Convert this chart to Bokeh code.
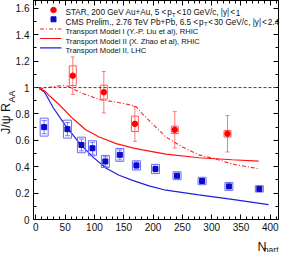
import math
from bokeh.plotting import figure
from bokeh.models import (Range1d, SingleIntervalTicker, LinearAxis, Span, Title,
                          CustomJSTickFormatter, ColumnDataSource, Whisker, TeeHead)
from bokeh.embed import file_html
from bokeh.resources import INLINE
from bokeh.core.properties import value

# ---------------- data ----------------
star_npart = [63, 116, 169, 237, 327]
star_raa = [1.09, 0.965, 0.725, 0.68, 0.65]
star_stat = [0.142, 0.157, 0.132, 0.138, 0.138]
star_sys = [0.075, 0.053, 0.058, 0.028, 0.025]

cms_npart = [14.2, 53.9, 77.8, 96.6, 118.6, 143.3, 171.6, 204.1, 240.9, 283.6, 329.4, 381.3]
cms_raa = [0.70, 0.685, 0.565, 0.54, 0.44, 0.49, 0.41, 0.383, 0.332, 0.292, 0.251, 0.232]
cms_sys = [0.068, 0.068, 0.059, 0.057, 0.046, 0.049, 0.035, 0.035, 0.030, 0.028, 0.030, 0.024]
cms_stat = [0.05, 0.05, 0.045, 0.045, 0.036, 0.038, 0.026, 0.022, 0.018, 0.017, 0.016, 0.014]

model1_npart = [6, 20, 35, 46, 55, 63, 80, 108, 137, 165, 172, 182, 199, 222, 250, 278, 306, 335, 380]
model1_raa = [0.99, 1.0, 1.01, 1.015, 1.01, 0.99, 0.955, 0.91, 0.89, 0.865, 0.85, 0.80, 0.725,
              0.625, 0.55, 0.49, 0.46, 0.42, 0.385]

model2_rhic_npart = [6, 15, 25, 40, 63, 85, 108, 137, 165, 182, 222, 278, 335, 380]
model2_rhic_raa = [0.99, 0.975, 0.93, 0.87, 0.765, 0.68, 0.625, 0.575, 0.543, 0.528, 0.495,
                   0.468, 0.453, 0.443]

model2_lhc_npart = [6, 15, 30, 50, 75, 97, 120, 142, 165, 193, 222, 278, 335, 397]
model2_lhc_raa = [0.995, 0.965, 0.845, 0.715, 0.575, 0.475, 0.388, 0.335, 0.297, 0.255, 0.222,
                  0.186, 0.152, 0.113]

x_ticks_interval = 50
y_ticks_interval = 0.2

# ---------------- layout helpers ----------------
XMIN, XMAX = -4, 414
YMIN, YMAX = 0, 1.66
FL, FR, FT, FB = 41, 286, 8, 227   # frame edges in page px

def dx(px):
    return XMIN + (px - FL) * (XMAX - XMIN) / (FR - FL)

def dy(py):
    return YMIN + (FB - py) * (YMAX - YMIN) / (FB - FT)

ARIAL = {' ': 278, ',': 278, '.': 278, '+': 584, '<': 584, '/': 278, '|': 260, '(': 333,
         ')': 333, '-': 333}
for ch in '0123456789':
    ARIAL[ch] = 556
ARIAL.update(dict(A=667, B=667, C=722, D=722, E=667, F=611, G=778, H=722, I=278, J=500, K=667,
                  L=556, M=833, N=722, O=778, P=667, Q=778, R=722, S=667, T=611, U=722, V=667,
                  W=944, X=667, Y=667, Z=611))
ARIAL.update(dict(a=556, b=556, c=500, d=556, e=556, f=278, g=556, h=556, i=222, j=222, k=500,
                  l=222, m=833, n=556, o=556, p=556, q=556, r=333, s=500, t=278, u=556, v=500,
                  w=722, x=500, y=500, z=500))

def tw(s, size):
    return sum(ARIAL.get(c, 556) for c in s) * size / 1000.0

FONT = "Liberation Sans"
TXT = "#111111"

p = figure(width=283, height=252, output_backend="svg", toolbar_location=None,
           x_range=Range1d(XMIN, XMAX), y_range=Range1d(YMIN, YMAX),
           min_border_left=FL - 8, min_border_right=291 - FR, min_border_top=FT - 8,
           min_border_bottom=252 - (FB - 8))
p.grid.visible = False
p.outline_line_color = "black"
p.background_fill_color = "white"
p.border_fill_color = "white"

xt = SingleIntervalTicker(interval=x_ticks_interval, num_minor_ticks=5)
yt = SingleIntervalTicker(interval=y_ticks_interval, num_minor_ticks=2)
p.xaxis.ticker = xt
p.yaxis.ticker = yt
p.yaxis.formatter = CustomJSTickFormatter(code="return (Math.round(tick*10)/10).toString();")
for ax in [p.xaxis[0], p.yaxis[0]]:
    ax.major_tick_in = 5
    ax.major_tick_out = 0
    ax.minor_tick_in = 3
    ax.minor_tick_out = 0
    ax.axis_line_color = "black"
    ax.major_label_text_font = FONT
    ax.major_label_text_font_size = "10px"
    ax.major_label_text_color = TXT
    ax.major_label_standoff = 4
p.xaxis.major_label_standoff = 3

for loc, tk in [("right", yt), ("above", xt)]:
    ax = LinearAxis(ticker=tk, formatter=CustomJSTickFormatter(code="return '';"),
                    major_label_text_font_size="1px", major_label_standoff=0,
                    major_tick_in=5, major_tick_out=0, minor_tick_in=3, minor_tick_out=0,
                    axis_line_color="black")
    p.add_layout(ax, loc)

# reference line at 1
p.add_layout(Span(location=1, dimension="width", line_color="#444444", line_dash="3 2",
                  line_width=1))

# models
p.line(model2_lhc_npart, model2_lhc_raa, line_color="#1f1fe0", line_width=1.2)
p.line(model2_rhic_npart, model2_rhic_raa, line_color="#ff1010", line_width=1.2)
p.line(model1_npart, model1_raa, line_color="#ff2020", line_width=1.1, line_dash="4 2 1 2")

# CMS
cms = ColumnDataSource(dict(x=cms_npart, y=cms_raa,
                            hi=[a + b for a, b in zip(cms_raa, cms_stat)],
                            lo=[a - b for a, b in zip(cms_raa, cms_stat)],
                            h=[2 * s for s in cms_sys]))
p.rect("x", "y", width=8, height="h", width_units="screen", source=cms,
       fill_color=None, line_color="#6a6aff", line_width=1)
p.add_layout(Whisker(base="x", upper="hi", lower="lo", source=cms, line_color="#7878ff",
                     line_width=1,
                     upper_head=TeeHead(size=5, line_color="#7878ff", line_width=1),
                     lower_head=TeeHead(size=5, line_color="#7878ff", line_width=1)))
p.scatter("x", "y", source=cms, marker="square", size=5, fill_color="#0a0acc",
          line_color="#0a0acc")

# STAR
star = ColumnDataSource(dict(x=star_npart, y=star_raa,
                             hi=[a + b for a, b in zip(star_raa, star_stat)],
                             lo=[a - b for a, b in zip(star_raa, star_stat)],
                             h=[2 * s for s in star_sys]))
p.add_layout(Whisker(base="x", upper="hi", lower="lo", source=star, line_color="#ff7a7a",
                     line_width=1,
                     upper_head=TeeHead(size=4, line_color="#ff7a7a", line_width=1),
                     lower_head=TeeHead(size=4, line_color="#ff7a7a", line_width=1)))
p.rect("x", "y", width=7, height="h", width_units="screen", source=star,
       fill_color=None, line_color="#ff5a5a", line_width=1)
p.scatter("x", "y", source=star, marker="circle", size=5.5, fill_color="#ff0000",
          line_color="#ff0000")

# ---------------- legend ----------------
LFS = 7.6      # rows 3-5
LFS12 = 8.2    # rows 1-2 (wider in the reference)
SFS = 5.8
GAP = 0.9
rows_py = [17.5, 26.8, 36.5, 46.0, 55.3]
text_px = 73
base_off = 2.8
p.scatter([dx(61)], [dy(rows_py[0])], marker="circle", size=5.5, fill_color="#ff0000",
          line_color="#ff0000")
p.scatter([dx(61)], [dy(rows_py[1])], marker="square", size=5, fill_color="#0a0acc",
          line_color="#0a0acc")
p.line([dx(47.5), dx(69)], [dy(rows_py[2])] * 2, line_color="#ff2020", line_width=1.1,
       line_dash="4 2 1 2")
p.line([dx(47.5), dx(69)], [dy(rows_py[3])] * 2, line_color="#ff1010", line_width=1.2)
p.line([dx(47.5), dx(69)], [dy(rows_py[4])] * 2, line_color="#1f1fe0", line_width=1.2)

legend_rows = [
    [("STAR, 200 GeV Au+Au, 5", 0, 0), ("<", 0, GAP), ("p", 0, GAP), ("T", 1, 0.3),
     ("<", 0, GAP), ("10 GeV/c, |y|", 0, GAP), ("<", 0, GAP), ("1", 0, GAP)],
    [("CMS Prelim., 2.76 TeV Pb+Pb, 6.5", 0, 0), ("<", 0, GAP), ("p", 0, GAP), ("T", 1, 0.3),
     ("<", 0, GAP), ("30 GeV/c, |y|", 0, GAP), ("<", 0, GAP), ("2.4", 0, GAP)],
    [("Transport Model I (Y.-P. Liu et al), RHIC", 0, 0)],
    [("Transport Model II (X. Zhao et al), RHIC", 0, 0)],
    [("Transport Model II, LHC", 0, 0)],
]
xs, ys, txt, xo, yo, fs = [], [], [], [], [], []
for i, (pieces, py) in enumerate(zip(legend_rows, rows_py)):
    yb = dy(py + base_off)
    size = LFS12 if i < 2 else LFS
    cur = 0.0
    for s, sub, gap in pieces:
        cur += gap
        f = SFS if sub else size
        xs.append(dx(text_px)); ys.append(yb); txt.append(s); xo.append(cur)
        yo.append(2.0 if sub else 0.0); fs.append(f"{f}px")
        cur += tw(s, f)
leg = ColumnDataSource(dict(x=xs, y=ys, text=txt, xo=xo, yo=yo, fs=fs))
p.text("x", "y", text="text", x_offset="xo", y_offset="yo", text_font_size="fs",
       source=leg, text_font=value(FONT), text_color=TXT, text_baseline="alphabetic",
       text_align="left")

# ---------------- axis titles as side-panel titles ----------------
TFS = 12.5
def mk_title(text, size, align, offset, standoff):
    return Title(text=text, text_font=FONT, text_font_size=f"{size}px",
                 text_font_style="normal", text_color=TXT, align=align,
                 vertical_align="middle", offset=offset, standoff=standoff)

jr_w = tw("J/", TFS) + 0.70 * TFS + tw(" R", TFS)
p.add_layout(mk_title("AA", 9, "left", (FB - 141.5) + jr_w + 0.5, -11), "left")
p.add_layout(mk_title("J/ψ R", TFS, "left", FB - 141.5, -5), "left")

# small spacer below the x tick labels, then N and its subscript
p.add_layout(mk_title(" ", 1, "right", 0, 8), "below")
p.add_layout(mk_title("N", TFS, "right", 12, -11), "below")
p.add_layout(mk_title("part", 8.5, "right", 0, -18), "below")

open("out.html", "w").write(file_html(p, INLINE))
